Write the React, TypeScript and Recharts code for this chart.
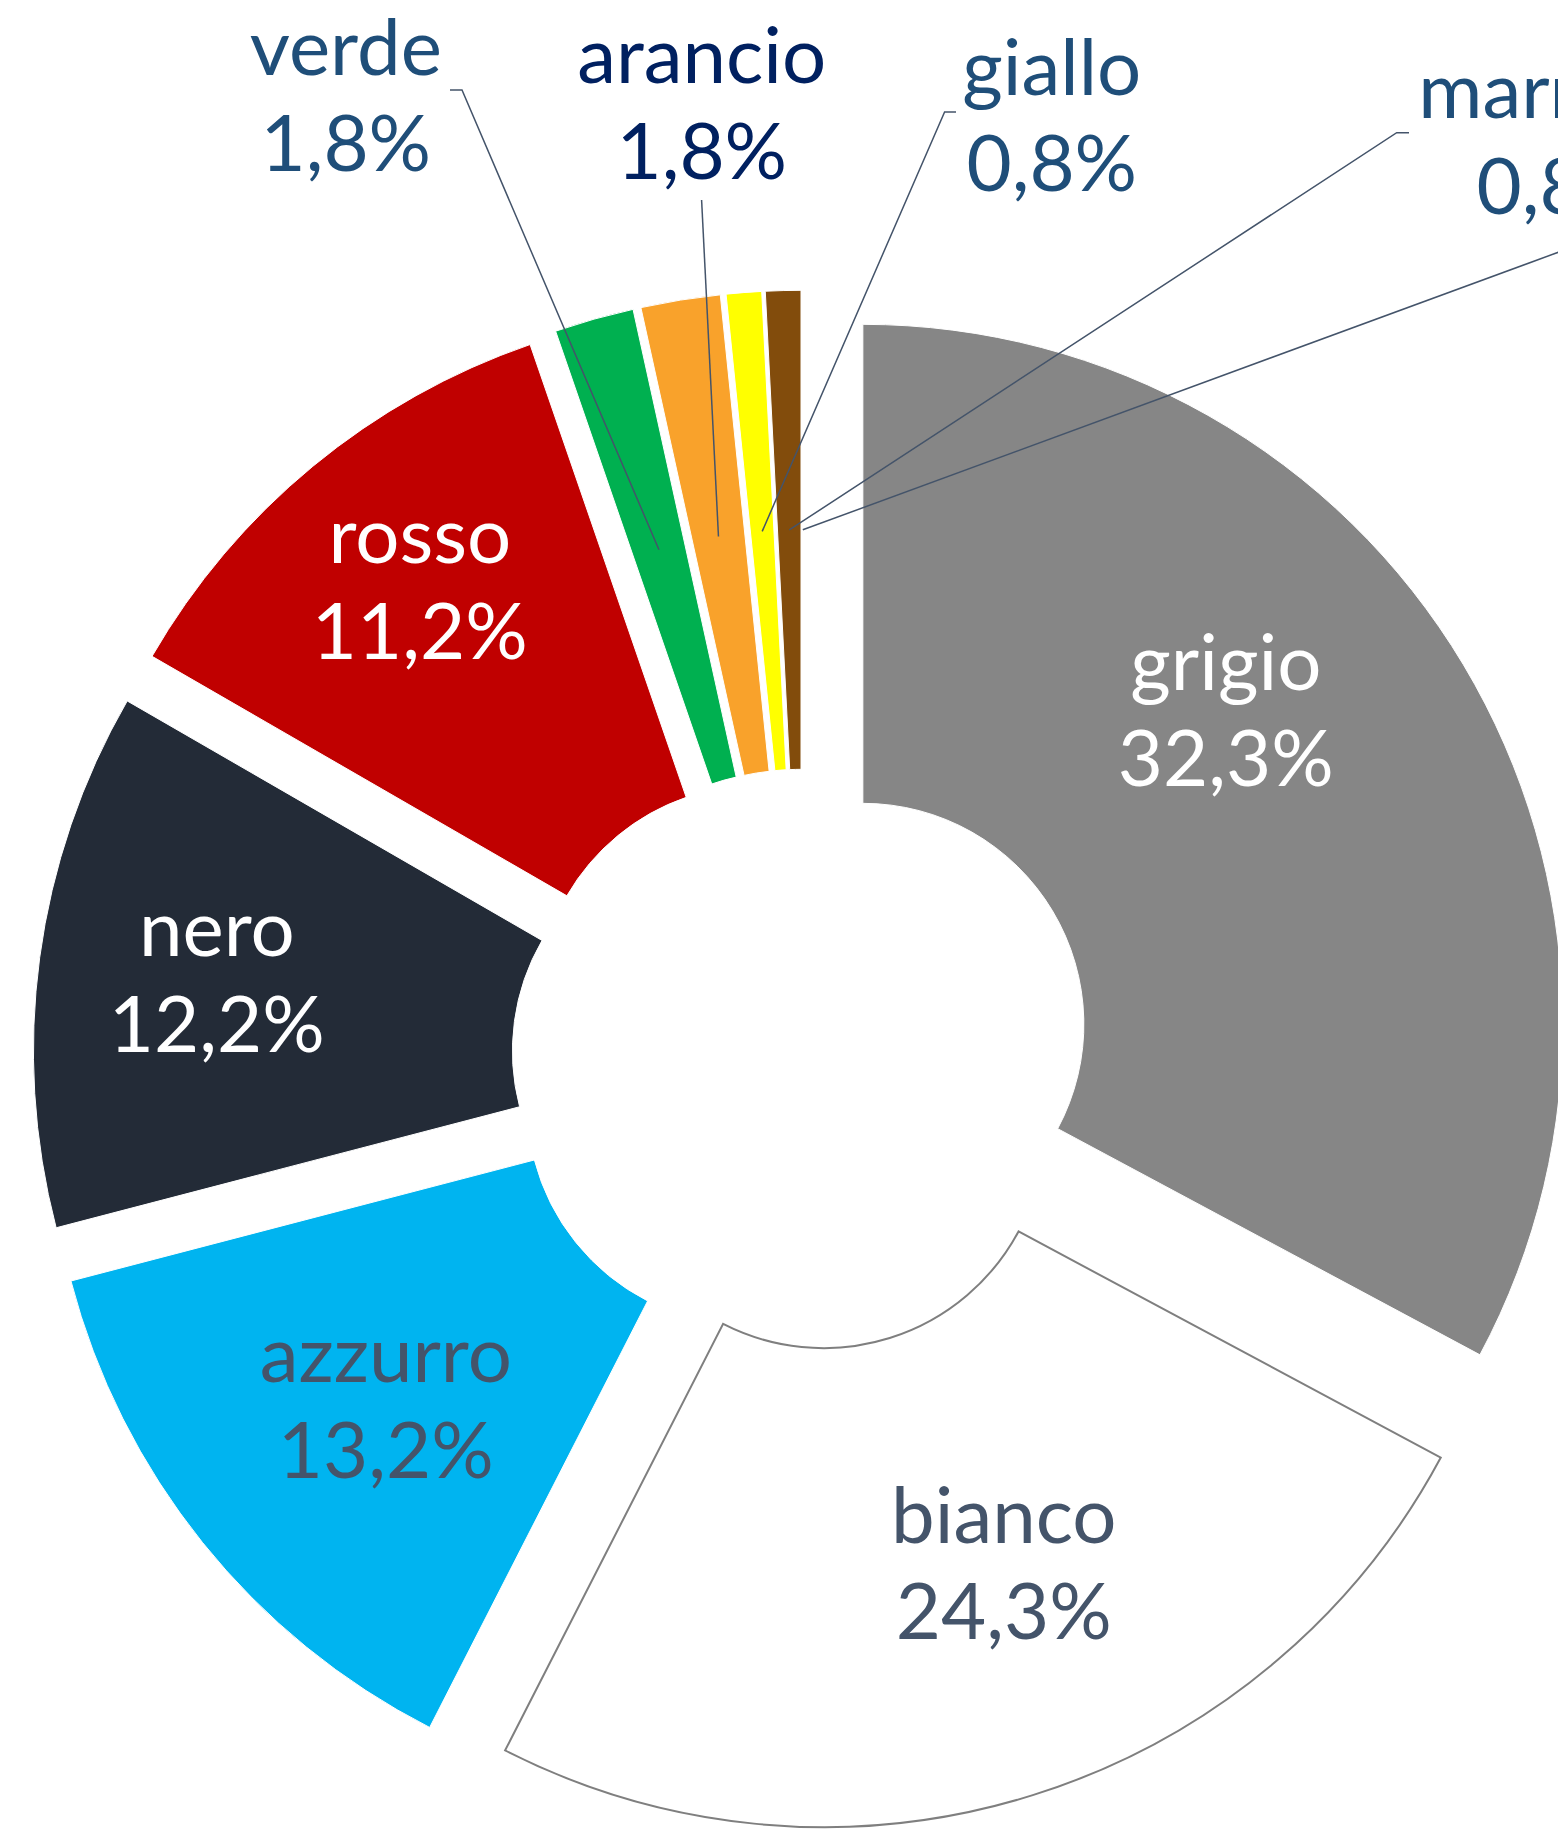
import { PieChart, Pie, Cell, Sector, Tooltip } from 'recharts';

// quote colori auto (percentuali)
const colori = ['grigio', 'bianco', 'azzurro', 'nero', 'rosso', 'verde', 'arancio', 'giallo', 'marrone', 'altri'];
const quote = [32.3, 24.3, 13.2, 12.2, 11.2, 1.8, 1.8, 0.8, 0.8, 0];

const riempimenti = ['#868686', '#ffffff', '#00b4f0', '#232b37', '#c00000', '#00b050', '#f9a22b', '#ffff00', '#824c0c', '#ffffff'];

const data = colori.map((nome, i) => ({ nome, quota: quote[i] }));

const W = 1558;
const H = 1830;
const CX = 802.8;
const CY = 1060.3;
const EXPLODE = 70;
const RAD = Math.PI / 180;
const FONT = 'Lato, "Open Sans", sans-serif';
const FONT_SIZE = 78;
const LINE_GAP = 96;

// label anchors as offsets from the pie centre; leader = start/elbow points
const LABELS: Record<string, { x: number; y: number; color: string; text?: boolean; leader?: number[][] }> = {
  grigio: { x: 423, y: -370, color: '#ffffff', text: true },
  bianco: { x: 201, y: 483, color: '#44546a', text: true },
  azzurro: { x: -417, y: 322, color: '#44546a', text: true },
  nero: { x: -586, y: -104, color: '#ffffff', text: true },
  rosso: { x: -383, y: -497, color: '#ffffff', text: true },
  verde: { x: -457, y: -985, color: '#1f4e79', text: true, leader: [[-352.8, -970.3], [-340.8, -970.3]] },
  arancio: { x: -101, y: -977, color: '#002060', text: true, leader: [[-101.2, -860.3]] },
  giallo: { x: 249, y: -965, color: '#1f4e79', text: true, leader: [[153.2, -948.3], [141.8, -948.3]] },
  marrone: { x: 759, y: -942, color: '#1f4e79', text: true, leader: [[606.2, -927.6], [593.9, -927.6]] },
  altri: { x: 0, y: 0, color: '#1f4e79', leader: [[837, -838]] },
};

const fmt = (v: number) => v.toFixed(1).replace('.', ',') + '%';

function ExplodedSector(props: any) {
  const { cx, cy, midAngle } = props;
  const dx = EXPLODE * Math.cos(-midAngle * RAD);
  const dy = EXPLODE * Math.sin(-midAngle * RAD);
  return <Sector {...props} cx={cx + dx} cy={cy + dy} />;
}

function renderLabel(props: any) {
  const { cx, cy, midAngle, innerRadius, outerRadius, index } = props;
  const nome = colori[index];
  const lay = LABELS[nome];
  if (!lay) return null;
  const r = EXPLODE + (innerRadius + outerRadius) / 2;
  const ex = cx + r * Math.cos(-midAngle * RAD);
  const ey = cy + r * Math.sin(-midAngle * RAD);
  const pts = lay.leader
    ? [...lay.leader.map(([x, y]) => [cx + x, cy + y]), [ex, ey]]
    : null;
  const tx = cx + lay.x;
  const ty = cy + lay.y;
  return (
    <g>
      {pts && (
        <polyline
          points={pts.map((p) => p.join(',')).join(' ')}
          fill="none"
          stroke="#44546a"
          strokeWidth={1.5}
        />
      )}
      {lay.text && (
        <text x={tx} y={ty} textAnchor="middle" fill={lay.color} fontFamily={FONT} fontSize={FONT_SIZE}>
          <tspan x={tx}>{nome}</tspan>
          <tspan x={tx} dy={LINE_GAP}>{fmt(quote[index])}</tspan>
        </text>
      )}
    </g>
  );
}

export default function App() {
  return (
    <div style={{ position: 'absolute', left: 0, top: 0, width: W, height: H, background: '#ffffff' }}>
      <PieChart width={W} height={H} margin={{ top: 0, right: 0, bottom: 0, left: 0 }}>
        <Tooltip defaultIndex={0} content={() => null} cursor={false} />
        <Pie
          data={data}
          dataKey="quota"
          nameKey="nome"
          cx={CX}
          cy={CY}
          innerRadius={221}
          outerRadius={700}
          startAngle={90}
          endAngle={-270}
          stroke="#ffffff"
          strokeWidth={1}
          activeShape={ExplodedSector}
          inactiveShape={ExplodedSector}
          label={renderLabel}
          labelLine={false}
          isAnimationActive={false}
        >
          {data.map((d, i) => (
            <Cell
              key={d.nome}
              fill={riempimenti[i]}
              stroke={d.nome === 'bianco' ? '#7f7f7f' : '#ffffff'}
              strokeWidth={d.nome === 'bianco' ? 2 : 1}
            />
          ))}
        </Pie>
      </PieChart>
    </div>
  );
}
